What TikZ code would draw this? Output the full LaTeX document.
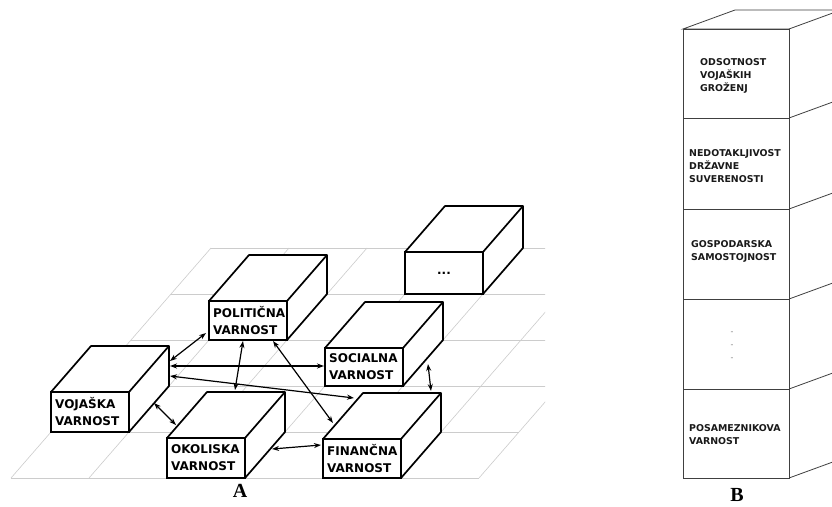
\documentclass[tikz,border=0pt]{standalone}
\usepackage{fontspec}
\newfontfamily\boxfont{DejaVu Sans}
\newfontfamily\labfont{Liberation Serif}
\usetikzlibrary{arrows.meta}
\tikzset{
 gridline/.style={draw=black!20, line width=0.6pt},
 boxline/.style={draw=black, line width=1.7pt, fill=white, line join=round},
 face/.style={draw=black, line width=1.7pt, fill=white, inner sep=0pt, outer sep=0pt},
 boxtext/.style={font=\boxfont\bfseries\fontsize{12}{17}\selectfont, align=left, inner sep=1pt, anchor=west},
 link/.style={line width=1.2pt, {Stealth[length=7pt,width=5pt]}-{Stealth[length=7pt,width=5pt]}},
 colface/.style={draw=black!75, line width=0.8pt, fill=white, inner sep=0pt, outer sep=0pt, minimum width=106pt, anchor=north west},
 coltext/.style={font=\boxfont\bfseries\fontsize{9.4}{13}\selectfont, align=left, inner sep=0pt, anchor=west, text=black!90},
 colline/.style={draw=black!75, line width=0.8pt},
 panel/.style={font=\labfont\bfseries\fontsize{20}{20}\selectfont, inner sep=0pt}
}
% #1 name, #2 x left, #3 y bottom, #4 width, #5 height, #6 text
\newcommand{\cuboid}[6]{%
 \draw[boxline] (#2,#3-#5) -- ++(40,-46) -- ++(#4,0) -- ++(0,#5) -- (#2+#4,#3) -- (#2+#4,#3-#5) -- cycle;
 \draw[boxline] (#2+#4,#3-#5) -- ++(40,-46);
 \node[face, minimum width=#4pt, minimum height=#5pt, anchor=south west] (#1) at (#2,#3) {};
 \node[boxtext] (#1-txt) at ([xshift=3pt]#1.west) {#6};
}
\begin{document}
\begin{tikzpicture}[x=1pt,y=-1pt]
\useasboundingbox (0,0) rectangle (832,506);
\fill[white] (0,0) rectangle (832,506);
% ground grid
\begin{scope}
 \clip (0,0) rectangle (545,506);
 \foreach \k in {0,...,5} \draw[gridline] ({11+40*\k},{478-46*\k}) -- ++(468,0);
 \foreach \j in {0,...,6} \draw[gridline] ({11+78*\j},478) -- ++(200,-230);
\end{scope}
% boxes, back to front
\cuboid{more}{405}{294}{78}{42}{}
\node[boxtext, anchor=center] (more-dots) at (more.center) {...};
\cuboid{poli}{209}{340}{78}{39}{POLITIČNA\\VARNOST}
\cuboid{soc}{325}{386}{78}{38}{SOCIALNA\\VARNOST}
\cuboid{voj}{51}{432}{78}{40}{VOJAŠKA\\VARNOST}
\cuboid{oko}{167}{478}{78}{40}{OKOLISKA\\VARNOST}
\cuboid{fin}{323}{478}{78}{39}{FINANČNA\\VARNOST}
% connector end points
\coordinate (v1) at (170,361); \coordinate (p1) at (206,333);
\coordinate (v2) at (170,366); \coordinate (s1) at (324,366);
\coordinate (v3) at (170,376); \coordinate (f1) at (354,398);
\coordinate (v4) at (154,403); \coordinate (o1) at (176,425);
\coordinate (p2) at (243,341); \coordinate (o2) at (235,390);
\coordinate (p3) at (273,341); \coordinate (f2) at (333,423);
\coordinate (o3) at (272,449); \coordinate (f3) at (321,445);
\coordinate (s2) at (428,364); \coordinate (f4) at (431,391);
\draw[link] (v1) -- (p1);
\draw[link] (v2) -- (s1);
\draw[link] (v3) -- (f1);
\draw[link] (v4) -- (o1);
\draw[link] (p2) -- (o2);
\draw[link] (p3) -- (f2);
\draw[link] (o3) -- (f3);
\draw[link] (s2) -- (f4);
% column B
\begin{scope}
 \clip (0,0) rectangle (832,506);
 \draw[colline, fill=white] (683,29) -- (735,10) -- (841,10) -- (841,459) -- (789,478) -- (789,29) -- cycle;
 \draw[colline] (789,29) -- (841,10);
 \foreach \y in {118,209,299,389} \draw[colline] (789,\y) -- ++(52,-19);
\end{scope}
\node[colface, minimum height=89pt] (b1) at (683,29) {};
\node[colface, minimum height=91pt] (b2) at (683,118) {};
\node[colface, minimum height=90pt] (b3) at (683,209) {};
\node[colface, minimum height=90pt] (b4) at (683,299) {};
\node[colface, minimum height=89pt] (b5) at (683,389) {};
\node[coltext] (t1) at (700,76) {ODSOTNOST\\VOJAŠKIH\\GROŽENJ};
\node[coltext] (t2) at (689,166) {NEDOTAKLJIVOST\\DRŽAVNE\\SUVERENOSTI};
\node[coltext] (t3) at (691,251) {GOSPODARSKA\\SAMOSTOJNOST};
\node[font=\boxfont\fontsize{8}{13}\selectfont, align=center, text=black!50, inner sep=0pt] (t4) at (732,346) {-\\-\\-};
\node[coltext] (t5) at (689,435) {POSAMEZNIKOVA\\VARNOST};
% panel labels
\node[panel] (la) at (240,491) {A};
\node[panel] (lb) at (737,495) {B};
\end{tikzpicture}
\end{document}
